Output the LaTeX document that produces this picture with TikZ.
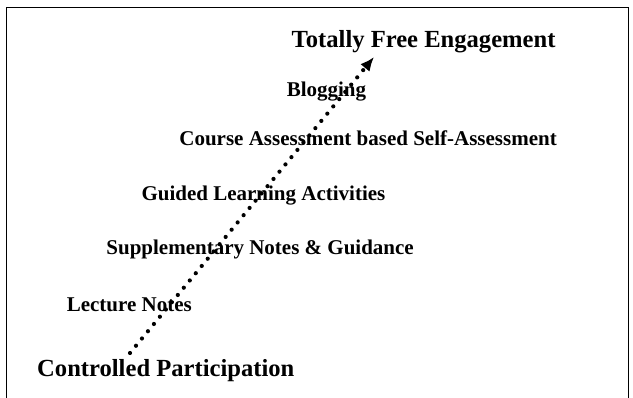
\documentclass[tikz,border=0pt]{standalone}
\usepackage{fontspec}
\setmainfont{Liberation Serif}
\usepackage{tikz}
\usetikzlibrary{arrows.meta}

\begin{document}
\begin{tikzpicture}[
  x=1pt, y=-1pt,
  stage/.style={anchor=base west, inner sep=0pt, font=\bfseries\fontsize{21}{25}\selectfont},
  pole/.style={anchor=base west, inner sep=0pt, font=\bfseries\fontsize{24.6}{29}\selectfont},
  route/.style={line width=4.2pt, line cap=round, dash pattern=on 0pt off 9.4pt,
    -{Latex[length=14pt, width=12pt]}},
]
\useasboundingbox (0,0) rectangle (633,398);
% --- Frame ---------------------------------------------------------
\draw[line width=1pt] (6,8) rectangle (628,405);

% --- End points ----------------------------------------------------
\node[pole] (free) at (291.5,48) {Totally Free Engagement};
\node[pole] (controlled) at (37,377) {Controlled Participation};

% Intermediate stages, bottom to top
\foreach \xpos/\ypos/\name/\txt in {66.6/312/lecture/Lecture Notes,
    106.2/255/supplementary/Supplementary Notes \& Guidance,
    141.3/201/guided/Guided Learning Activities,
    179.2/146/course/Course Assessment based Self-Assessment,
    286.6/97/blogging/Blogging} {
  \node[stage] (\name) at (\xpos,\ypos) {\txt};
}

% --- Dotted progression arrow --------------------------------------
\coordinate (low) at (130,353);
\coordinate (high) at (374,57);
\draw[route] (low) -- (high);
\end{tikzpicture}
\end{document}
